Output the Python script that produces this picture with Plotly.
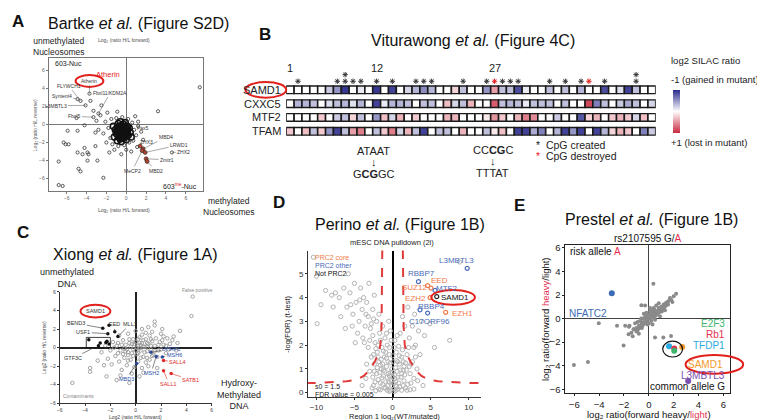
import plotly.graph_objects as go

W, H = 765, 420
FONT = "Liberation Sans, Arial, sans-serif"

def px(x): return x / W
def py(y): return 1 - y / H

# ---------------- DATA ----------------
# Panel A (Bartke) : log2 H/L forward vs reverse
A_CORE = [(-0.4,-0.8),(-0.2,-0.6),(-0.6,-1.0),(-0.3,-1.2),(-0.5,-0.4),(-0.1,-1.0),(-0.8,-0.7),(0.0,-0.5),
          (-0.7,-1.3),(-0.2,-1.5),(-0.4,-0.2),(-0.9,-0.3),(0.1,-0.8),(-0.6,-1.6),(-1.0,-1.0),(0.2,-1.2),
          (-0.3,0.0),(-0.5,-1.9),(-1.1,-0.6),(0.3,-0.4),(-0.8,0.1),(0.0,-1.7),(-1.2,-1.4),(0.4,-0.9),
          (-0.1,0.2),(-0.9,-1.8),(0.1,-0.2),(-1.3,-0.2),(0.5,-1.4),(-0.6,0.3),(-0.35,-0.5),(-0.55,-1.2),
          (-0.15,-0.9),(-0.75,-0.9),(-0.45,-1.5),(-0.25,-0.3),(-0.65,-0.6),(-0.05,-1.3),(-0.85,-1.2),(0.15,-0.6),
          (-0.5,-1.05),(-0.3,-0.75),(-0.7,-0.45),(-0.1,-0.35),(-0.4,-1.35),(-0.95,-0.75),(0.05,-1.1),(-0.6,-0.15)]
A_HALO = [(-1.5,0.6),(-1.8,-0.4),(-1.6,-1.5),(-1.4,-2.2),(-0.8,-2.4),(-0.2,-2.3),(0.3,-2.0),(0.7,-1.8),
          (0.8,-0.6),(0.6,0.2),(0.2,0.6),(-0.4,0.8),(-1.0,0.7),(-2.1,0.3),(-2.3,-1.0),(-2.0,-2.0),
          (-1.2,-2.8),(0.0,-2.8),(1.0,-1.2),(1.2,-0.2),(-2.6,1.0),(-1.9,1.3),(-0.9,1.4),(0.9,0.9),
          (1.5,-0.8),(-3.0,0.4),(-2.8,-0.6),(-3.3,1.5),(1.1,-2.5),(0.5,-3.0),(-0.5,-3.3),(-1.7,-3.1),
          (1.7,-1.7),(-2.5,2.1),(-3.6,2.6),(-4.2,-0.1),(1.2,0.3),(3.2,1.45),(7.4,4.1),(-5.0,0.7),
          (-5.9,-0.7),(-4.9,-0.7),(-3.1,-0.9),(-6.1,-2.2),(-5.8,-2.2),(-3.1,-2.4),(-4.9,-3.1),(-4.4,-3.3),
          (-3.9,-3.1),(-3.8,-3.3),(-3.9,-4.0),(-6.8,-4.1),(-4.8,-4.9),(-4.6,-5.2),(-2.9,-4.0),(-6.8,-6.7),
          (-6.4,-6.8),(-2.3,-5.9),(-6.3,-2.0),(-4.2,-2.6)]
A_NAMES = ["Atherin", "FLYWCH1", "Syntent4", "L3MBTL3", "Fbxl5", "Fbxl11/KDM2A", "ZHX2",
           "ZHX3", "MBD4", "LRWD1", "Zmiz1", "MeCP2", "MBD2"]
A_NX = [-3.7, -4.6, -4.9, -4.1, -3.3, -2.8, 4.6, 1.4, 1.7, 1.9, 2.0, 1.6, 2.1]
A_NY = [3.4, 2.6, 2.8, 2.1, 0.8, 1.2, -3.1, -2.4, -2.7, -3.1, -3.8, -2.9, -4.1]
A_METHYL = [7, 8, 9, 10, 11, 12]   # indices of red (methyl-binding) proteins

# Panel B (Viturawong) : log2 SILAC ratio per position
B_ROWS = ["SAMD1", "CXXC5", "MTF2", "TFAM"]
B_SAMD1 = [0,0,0,0,0,-0.25,-0.5,-0.95,0,-0.1,0,-0.95,0,-0.9,0,-0.2,-0.35,-0.55,-0.35,0,0,0.2,-0.3,0,0,
           -0.5,0.45,-0.3,-0.3,-0.85,-0.1,0,0,-0.3,0,-0.3,0,-0.35,0,0,-0.85,0,-0.15,-0.9,-0.3,0,0]
B_CXXC5 = [0,-0.35,-0.35,-0.3,0,-0.15,-0.3,-0.35,-0.15,-0.35,0,-0.9,-0.1,-0.35,-0.35,-0.3,0,-0.3,-0.3,0,
           0.3,-0.2,-0.3,0.35,0,0,0.75,-0.3,-0.35,-0.3,-0.1,-0.3,-0.3,-0.3,0,-0.3,0,0,0.85,-0.6,-0.3,0,
           -0.25,-0.4,-0.3,0,-0.2]
B_MTF2 = [0,0,0,0,0.25,0,-0.25,-0.3,0.2,-0.3,0,-0.5,0.3,-0.2,0.35,0,0.25,0,0,0,0.35,0.35,0,0,0,0.1,0.5,
          0.25,0,0.35,0.6,0.55,0,0,-0.25,0,0,-0.8,0.2,0.35,0,0.25,0.35,0.25,-0.2,0.3,0]
B_TFAM = [0.25,0,0.3,-0.3,0.25,-0.5,-0.9,-0.3,0.45,0.6,0,-0.3,0.25,0.6,-0.2,0.35,-0.3,-0.9,0,-0.3,-0.3,0,
          0.35,0,0,-0.3,0.1,0.3,0,-0.9,-0.9,-0.4,-0.6,0,-0.35,-0.9,-0.5,-0.9,0,-0.9,-0.35,0.2,0.35,0.25,0,
          -0.6,-0.25]
B_CREATED = [1,6,7,8,9,11,13,16,17,18,22,25,27,28,29,33,35,37,40,44]
B_DESTROYED = [26,38]
B_DOUBLE = [7,44]
B_POS_LABELS = {0: "1", 11: "12", 26: "27"}

# Panel C (Xiong)
C_GRAY = [(-1.8,0.6),(-1.5,0.2),(-1.2,-0.3),(-1.0,0.8),(-0.8,0.3),(-0.6,-0.5),(-0.5,0.9),(-0.3,0.4),
          (-0.2,-0.2),(0.0,0.6),(0.1,-0.7),(0.2,0.2),(0.3,1.1),(0.4,-0.3),(0.5,0.5),(0.6,-1.0),(0.7,0.1),
          (0.8,0.9),(0.9,-0.4),(1.0,0.4),(1.1,1.3),(1.2,-0.2),(1.3,0.7),(1.4,-0.8),(1.5,0.2),(1.6,1.0),
          (1.8,-0.3),(1.9,0.6),(2.0,1.5),(2.2,0.3),(2.4,-0.6),(2.5,1.0),(2.7,0.4),(3.0,1.2),(-1.6,-0.9),
          (-1.3,-1.5),(-0.9,-1.1),(-0.7,-1.9),(-0.4,-1.3),(-0.1,-2.1),(0.2,-1.5),(0.5,-2.2),(0.8,-1.6),
          (1.1,-1.3),(-2.0,-0.3),(-2.2,-1.2),(-1.9,-1.8),(-1.1,-2.4),(-0.3,-2.8),(0.6,-2.7),(1.0,-2.0),
          (-0.6,1.5),(0.0,1.8),(0.5,2.0),(1.0,2.2),(1.5,2.4),(2.1,2.0),(-1.3,1.3),(0.8,1.6),(-0.9,-0.1),
          (-0.4,0.1),(0.1,0.0),(0.3,-0.1),(0.6,0.8),(-0.2,0.9),(0.4,0.3),(-0.6,-0.8),(1.7,-1.0),(2.6,-0.2),
          (3.3,0.5),(3.5,1.8),(-2.4,0.2),(-3.0,-1.4),(-3.6,-2.2),(-3.6,-2.6),(-2.3,-3.1),(-1.5,-3.5),
          (-5.0,-3.8),(4.5,5.5),(4.4,3.4),(1.5,2.8),(2.2,1.2),(-0.5,-3.8),(0.3,-3.1),(-0.1,0.4),(0.7,-0.5),
          (-1.4,0.5),(1.2,0.2),(-0.8,-0.4),(0.2,-0.6),(0.9,0.1),(-0.2,-0.9),
          (-1.7,0.0),(-1.4,-0.6),(-1.1,0.3),(-0.7,-0.2),(-0.3,-0.6),(0.0,-0.3),(0.3,0.5),(0.6,0.1),
          (0.9,0.5),(1.2,0.9),(1.5,-0.4),(1.8,0.3),(2.1,0.8),(2.4,0.2),(-0.5,0.5),(0.2,0.9),(0.5,1.4),
          (1.3,1.7),(-1.0,-0.7),(-0.6,-1.4),(0.4,-1.1),(0.9,-1.1),(1.3,-0.9),(2.0,-0.2),(2.9,0.8),
          (3.2,-0.3),(-2.7,-0.5),(-2.5,-1.9),(-1.2,-3.0),(1.7,-2.2)]
C_BLACK = [(-2.1,2.4),(-2.6,2.1),(-1.65,1.7),(-1.4,1.2),(-2.2,1.5),(-3.7,0.85),(-2.8,0.5),(-2.35,0.55),
           (-2.94,0.2),(-2.27,0.7),(-2.1,0.4)]
C_BLUE = [(1.2,-0.5),(1.62,-0.96),(2.1,-1.0),(0.08,-1.7)]
C_RED = [(2.2,-1.4),(2.8,-2.8),(2.2,-2.5)]
C_BLACK_NAMES = ["SAMD1", "BEND3", "EED", "MLL1", "USF1"]
C_BLUE_NAMES = ["UHRF1", "MSH2", "MSH6", "MBD3"]
C_RED_NAMES = ["SALL4", "SATB1", "SALL1"]

# Panel D (Perino) volcano
D_GRAY = [(-0.3,0.1),(0.2,0.15),(-0.6,0.3),(0.5,0.25),(-0.9,0.45),(0.8,0.4),(-0.2,0.5),(0.3,0.6),
          (-1.2,0.7),(1.1,0.65),(-0.5,0.8),(0.6,0.9),(-1.5,1.0),(1.4,0.95),(-0.8,1.1),(0.9,1.2),(-0.1,1.0),
          (0.1,1.3),(-1.8,1.3),(1.7,1.25),(-1.1,1.5),(1.2,1.5),(-0.4,1.6),(0.5,1.7),(-2.0,1.7),(1.9,1.6),
          (-1.4,1.9),(-0.7,2.0),(0.8,1.95),(-2.3,2.1),(2.1,1.9),(-1.0,2.3),(0.3,2.2),(-1.7,2.5),(-2.6,2.4),
          (1.0,2.5),(-0.3,2.6),(-1.3,2.8),(-2.9,2.7),(-2.1,3.0),(0.2,0.05),(-0.1,0.3),(0.7,0.15),(-0.7,0.1),
          (1.5,0.5),(-1.6,0.4),(2.3,0.8),(-2.4,0.9),(2.6,1.3),(-2.8,1.5),(-2.2,0.08),(-1.6,0.12),
          (-1.1,0.2),(1.2,0.1),(1.7,0.2),(2.3,0.12),(-2.5,0.3),(2.0,0.35),(-1.9,0.55),(1.6,0.75),
          (-1.4,0.62),(0.4,0.45),(-0.4,0.7),(0.0,0.85),(1.0,0.95),(-1.0,0.9),(-0.6,1.3),(0.4,1.05),
          (-1.3,1.2),(1.4,1.3),(-0.9,1.7),(0.2,1.9),(-0.2,2.2),(-1.9,2.0),(-0.5,0.45),(0.05,0.65),
          (-2.7,0.2),(-2.3,0.45),(-1.8,0.15),(-1.3,0.35),(-0.9,0.2),(-0.45,0.05),(0.1,0.4),(0.45,0.1),
          (0.9,0.25),(1.4,0.3),(1.9,0.1),(2.4,0.4),(2.8,0.15),(-2.6,0.65),(-2.1,0.8),(-1.7,0.85),
          (-1.2,0.95),(-0.7,0.65),(-0.25,0.85),(0.25,0.75),(0.7,0.65),(1.2,0.8),(1.8,0.95),(2.2,1.1),
          (-2.4,1.2),(-2.0,1.05),(-1.6,1.15),(-0.3,1.25),(0.7,1.3),(1.5,1.1),(-1.9,1.5),(-1.5,1.4),
          (-0.8,1.45),(0.0,1.55),(0.9,1.55),(-2.2,1.85),(-1.2,1.75),(-0.4,1.9),(0.5,1.35),(1.3,1.8),
          (-2.5,1.6),(-1.6,2.2),(-0.8,2.5),(0.6,2.4),(-3.2,1.9),(-3.4,1.2),(-3.0,0.9),(3.0,1.5),
          (2.8,1.9),(-0.5,3.0),(-1.8,3.3),(-2.5,3.1),
          (-3.2,3.2),(-3.6,2.8),(-4.0,3.5),(-4.4,3.0),(-3.8,4.0),(-4.8,3.8),(-5.2,3.3),(-5.6,4.2),
          (-6.0,3.6),(-6.4,4.4),(-5.0,4.6),(-7.0,4.0),(-7.5,4.2),(-8.0,4.1),(-8.8,4.3),(-9.4,3.7),
          (-10.0,4.9),(-10.4,5.7),(-9.9,2.9),(-6.8,3.2),(-3.4,3.8),(-4.6,2.5),(-3.0,2.2),(-5.3,2.8),
          (-2.6,3.5),(-4.2,4.4),(-7.8,3.6),(-6.2,2.7),(-3.9,2.3),(-4.9,2.1),(-2.4,4.1),(-5.8,5.0),
          (-3.1,4.6),(-3.5,3.3),(-4.3,3.9),(-5.5,3.7),(-2.8,2.9),(-3.7,2.1),
          (2.2,2.3),(2.6,2.8),(3.0,2.0),(3.4,2.6),(2.9,3.3),(3.8,3.0),(4.2,2.4),(2.0,3.6),(4.9,2.9),
          (3.6,1.6),(2.4,1.2),(3.2,1.0),(2.8,0.6),(1.6,2.8),(1.3,3.2),(-4.0,0.3),(4.0,0.3),(-3.5,0.6),
          (3.3,0.5),(5.5,1.9),(7.5,2.2),(8.8,5.5)]
D_THR = [(1.35,6.0),(1.37,4.5),(1.4,3.5),(1.45,2.8),(1.6,2.0),(1.9,1.6),(2.3,1.33),(3.0,0.95),
         (3.8,0.7),(4.7,0.55),(6.0,0.48),(8.0,0.43),(10.0,0.41),(11.6,0.4)]
D_NAMES = ["L3MBTL3", "RBBP7", "EED", "SUZ12", "MTF2", "SAMD1", "EZH2", "RBBP4", "C17ORF96", "EZH1"]
D_X = [9.8, 3.4, 5.05, 4.6, 5.58, 5.8, 4.93, 3.6, 4.6, 6.97]
D_Y = [5.23, 4.67, 4.4, 4.5, 4.3, 4.04, 4.0, 3.48, 3.35, 3.38]
D_GROUP = ["other", "other", "core", "core", "other", "not", "core", "other", "other", "core"]

# Panel E (Prestel)
E_GRAY = [(0.0,0.0),(0.2,0.3),(-0.2,-0.1),(0.4,0.5),(-0.4,-0.3),(0.6,0.6),(-0.6,-0.5),(0.8,0.9),
          (-0.8,-0.6),(1.0,1.0),(-1.0,-0.8),(1.2,1.2),(1.4,1.1),(1.6,1.5),(1.8,1.6),(0.3,0.1),(-0.1,0.2),
          (0.5,0.2),(0.1,0.6),(0.7,0.4),(-0.3,0.1),(0.9,0.6),(-0.5,-0.6),(1.1,0.8),(-0.7,-0.2),(0.2,-0.2),
          (-0.2,0.5),(0.4,0.9),(0.6,1.1),(-0.9,-1.0),(-1.2,-0.9),(-1.4,-1.2),(1.3,0.7),(0.8,1.3),(-0.4,0.4),
          (0.0,-0.4),(0.3,-0.5),(-1.1,-0.4),(-1.6,-0.7),(0.9,0.2),(1.5,1.4),(-0.6,0.0),(0.1,0.9),(-0.8,-1.3),
          (0.15,0.05),(-0.15,-0.25),(0.35,0.35),(0.55,0.45),(0.75,0.7),(0.95,0.85),(1.15,1.05),(1.35,1.3),
          (1.7,1.75),(2.0,1.9),(-0.35,-0.45),(-0.55,-0.35),(-0.75,-0.8),(-1.0,-1.1),(0.05,0.35),(0.25,0.55),
          (0.45,0.75),(0.65,0.35),(0.85,0.55),(1.05,0.6),(-0.25,0.25),(-0.45,0.0),(-0.65,-0.7),(1.25,0.95),
          (1.55,1.2),(0.3,0.75),(-0.1,-0.5),(0.5,-0.1),(2.2,2.1),(1.9,1.4),(-1.3,-1.5),(-0.9,-0.3),
          (0.37,2.95),(-0.3,1.1),(-4.03,-0.4),(-2.56,-0.62),(-6.03,-3.95),(-4.9,-3.68),(-1.55,-0.62),
          (-1.23,-0.9),(-1.63,-1.34),(-2.03,-2.28),(1.17,-1.6),(1.79,-1.48),(0.5,-1.6),(-0.56,-0.8),
          (-0.6,1.13),(1.44,1.34),(-1.9,-0.6)]
E_NAMES = ["NFATC2", "TFDP1", "Rb1", "E2F3", "SAMD1", "L3MBTL3"]
E_X = [-2.98, 1.63, 2.05, 2.05, 2.69, 3.17]
E_Y = [2.15, -2.36, -2.55, -2.73, -2.42, -5.31]
E_COLORS = ["#3c6cb4", "#2ba9e1", "#e2314f", "#3fb56c", "#f39a2c", "#7a4fb0"]

# ---------------- AXES GEOMETRY ----------------
GEOM = {
    "A": dict(xd=(38, 193), yd=(48, 183), xr=(-7.8, 7.7), yr=(-7.4, 7.3)),
    "B": dict(xd=(277, 649), yd=(50, 130), xr=(-0.5, 46.5), yr=(3.57, -2.14)),
    "C": dict(xd=(49, 202), yd=(285, 398), xr=(-6, 6), yr=(-6, 6)),
    "D": dict(xd=(299, 473), yd=(243, 392), xr=(-11.1, 11.6), yr=(-0.2, 5.98)),
    "E": dict(xd=(558, 724), yd=(237, 388), xr=(-6.72, 6.56), yr=(-6.36, 6.28)),
}
AXID = {"A": "", "B": "2", "C": "3", "D": "4", "E": "5"}

def to_px(p, x, y):
    g = GEOM[p]
    X = g["xd"][0] + (x - g["xr"][0]) / (g["xr"][1] - g["xr"][0]) * (g["xd"][1] - g["xd"][0])
    Y = g["yd"][1] - (y - g["yr"][0]) / (g["yr"][1] - g["yr"][0]) * (g["yd"][1] - g["yd"][0])
    return X, Y

def xs(pairs): return [p[0] for p in pairs]
def ys(pairs): return [p[1] for p in pairs]

fig = go.Figure()

def add(p, **kw):
    fig.add_trace(go.Scatter(xaxis="x" + AXID[p], yaxis="y" + AXID[p], hoverinfo="skip", **kw))

annotations = []
shapes = []

def T(text, x, y, size=10, color="#222", xanchor="center", yanchor="middle", **kw):
    annotations.append(dict(text=text, x=px(x), y=py(y), xref="paper", yref="paper", showarrow=False,
                            font=dict(size=size, color=color, family=FONT), xanchor=xanchor,
                            yanchor=yanchor, **kw))

def P(p, text, x, y, tx, ty, size, color, acolor="#444", aw=0.6):
    X, Y = to_px(p, x, y)
    annotations.append(dict(text=text, x=x, y=y, xref="x" + AXID[p], yref="y" + AXID[p],
                            showarrow=True, arrowhead=0, arrowwidth=aw, arrowcolor=acolor,
                            ax=tx - X, ay=ty - Y, standoff=0,
                            font=dict(size=size, color=color, family=FONT)))

def ellipse(x0, y0, x1, y1, color="#e3211c", width=2):
    shapes.append(dict(type="circle", xref="paper", yref="paper", x0=px(x0), x1=px(x1),
                       y0=py(y1), y1=py(y0), line=dict(color=color, width=width)))

# ---------------- PANEL A ----------------
add("A", x=xs(A_CORE), y=ys(A_CORE), mode="markers",
    marker=dict(symbol="circle-open", size=6, color="#111", line=dict(width=1.6)))
add("A", x=xs(A_HALO), y=ys(A_HALO), mode="markers",
    marker=dict(symbol="circle-open", size=3.2, color="#333", line=dict(width=0.8)))
plain = [i for i in range(len(A_NAMES)) if i not in A_METHYL]
add("A", x=[A_NX[i] for i in plain], y=[A_NY[i] for i in plain], mode="markers",
    marker=dict(symbol="circle-open", size=3.2, color="#333", line=dict(width=0.8)))
add("A", x=[A_NX[i] for i in A_METHYL], y=[A_NY[i] for i in A_METHYL], mode="markers",
    marker=dict(symbol="circle", size=4, color="#b8442e", line=dict(width=0.6, color="#222")))

A_TXT = {"Atherin": (79, 71), "FLYWCH1": (58, 76), "Syntent4": (51, 86), "L3MBTL3": (45, 96),
         "Fbxl5": (64, 107), "Fbxl11/KDM2A": (100, 83), "ZHX2": (174, 143), "ZHX3": (136, 133),
         "MBD4": (156, 128), "LRWD1": (169, 136), "Zmiz1": (157, 151), "MeCP2": (122, 162),
         "MBD2": (146, 162)}
for i, n in enumerate(A_NAMES):
    tx, ty = A_TXT[n]
    P("A", n, A_NX[i], A_NY[i], tx, ty, 5, "#333", acolor="#555", aw=0.5)
T("Pax5", 133, 119, 5, "#333")
T("603-Nuc", 42, 53, 7, "#222", xanchor="left")
T("603<sup><span style='color:#e3211c'>me</span></sup>-Nuc", 189, 178, 7, "#222", xanchor="right")
T("Atherin", 98, 64, 7.5, "#e3211c")
ellipse(65, 65, 93, 77)
T("<b>A</b>", 7, 11, 17, "#111")
T("Bartke <i>et al.</i> (Figure S2D)", 128, 13, 16, "#111")
T("unmethylated<br>Nucleosomes", 20, 36, 8.5, "#222", xanchor="left")
T("methylated<br>Nucleosomes", 191, 198, 8.5, "#222", xanchor="left")
T("Log₂ (ratio H/L forward)", 114, 29, 5, "#555")
T("Log₂ (ratio H/L forward)", 114, 202, 5, "#555")
T("Log₂ (ratio H/L reverse)", 24, 116, 5, "#555", textangle=-90)

# ---------------- PANEL B ----------------
rows_vals = [B_SAMD1, B_CXXC5, B_MTF2, B_TFAM]
hx, hy, hc = [], [], []
for r, vals in enumerate(rows_vals):
    for c, v in enumerate(vals):
        hx.append(c); hy.append(r); hc.append(-v)
add("B", x=hx, y=hy, mode="markers",
    marker=dict(symbol="square", size=7.6, color=hc, cmin=-1, cmax=1,
                colorscale=[[0, "#c9283e"], [0.5, "#ffffff"], [1, "#2c2d8c"]],
                line=dict(color="#1a1a1a", width=1.4),
                colorbar=dict(x=px(666), xanchor="left", y=py(101.5), yanchor="middle",
                              xpad=0, ypad=0, len=43, lenmode="pixels", thickness=7,
                              showticklabels=False, ticks="", outlinewidth=0)))
STAR = dict(symbol="asterisk-open", size=4.5, color="#333", line=dict(color="#333", width=1))
add("B", x=B_CREATED, y=[-0.62] * len(B_CREATED), mode="markers", marker=STAR)
add("B", x=B_DOUBLE, y=[-1.1] * len(B_DOUBLE), mode="markers", marker=STAR)
add("B", x=B_DESTROYED, y=[-0.62] * len(B_DESTROYED), mode="markers",
    marker=dict(STAR, color="#e3211c", line=dict(color="#e3211c", width=1)))
for c, lab in B_POS_LABELS.items():
    annotations.append(dict(text=lab, x=c, y=-1.6, xref="x2", yref="y2", showarrow=False,
                            font=dict(size=11, color="#222", family=FONT)))
for r, name in enumerate(B_ROWS):
    X, Y = to_px("B", -0.5, r)
    T(name, X - 3, Y, 11, "#222", xanchor="right")
ellipse(236, 72, 277, 88)
T("<b>B</b>", 256, 24, 17, "#111")
T("Viturawong <i>et al.</i> (Figure 4C)", 465, 30, 16, "#111")
T("ATAAT", 365, 142, 11, "#222")
T("↓", 365, 153, 11, "#222")
T("G<b>CG</b>GC", 365, 165, 11, "#222")
T("CC<b>CG</b>C", 485, 141, 11, "#222")
T("↓", 485, 152, 11, "#222")
T("TTTAT", 485, 164, 11, "#222")
T("*  CpG created", 526, 136, 10.5, "#222", xanchor="left")
T("<span style='color:#e3211c'>*</span>  CpG destroyed", 526, 147, 10.5, "#222", xanchor="left")
T("log2 SILAC ratio", 662, 50, 9.5, "#222", xanchor="left")
T("-1 (gained in mutant)", 662, 70, 9.5, "#222", xanchor="left")
T("+1 (lost in mutant)", 662, 133, 9.5, "#222", xanchor="left")

# ---------------- PANEL C ----------------
add("C", x=xs(C_GRAY), y=ys(C_GRAY), mode="markers",
    marker=dict(symbol="circle-open", size=3.5, color="#9a9a9a", line=dict(width=0.9)))
add("C", x=xs(C_BLACK), y=ys(C_BLACK), mode="markers",
    marker=dict(symbol="circle", size=3.5, color="#111"))
add("C", x=xs(C_BLUE), y=ys(C_BLUE), mode="markers",
    marker=dict(symbol="circle", size=3.5, color="#2f4fa8"))
add("C", x=xs(C_RED), y=ys(C_RED), mode="markers",
    marker=dict(symbol="circle", size=3.5, color="#e02b2b"))
C_TXT = {"SAMD1": (85, 304), "BEND3": (66, 317), "EED": (104, 318), "MLL1": (120, 318),
         "USF1": (73, 326), "UHRF1": (161, 343), "MSH6": (164, 349), "MBD3": (116, 373),
         "MSH2": (141, 367), "SALL4": (168, 356), "SATB1": (181, 374), "SALL1": (159, 378)}
for i, n in enumerate(C_BLACK_NAMES):
    if n == "SAMD1":
        T(n, *C_TXT[n], 5.5, "#333")
    else:
        P("C", n, C_BLACK[i][0], C_BLACK[i][1], *C_TXT[n], 5.5, "#333", acolor="#333")
for i, n in enumerate(C_BLUE_NAMES):
    P("C", n, C_BLUE[i][0], C_BLUE[i][1], *C_TXT[n], 5.5, "#2f4fa8", acolor="#333")
for i, n in enumerate(C_RED_NAMES):
    P("C", n, C_RED[i][0], C_RED[i][1], *C_TXT[n], 5.5, "#e02b2b", acolor="#e02b2b")
P("C", "GTF3C", -3.3, 0.0, 63, 352, 5.5, "#333", acolor="#333")
x0, y0 = to_px("C", -3.9, 1.1)
x1, y1 = to_px("C", -2.0, 0.0)
shapes.append(dict(type="rect", xref="paper", yref="paper", x0=px(x0), x1=px(x1), y0=py(y1), y1=py(y0),
                   line=dict(color="#111", width=0.8)))
ellipse(70, 298, 100, 311)
T("False positive", 188, 283, 5, "#888")
T("Contaminants", 68, 391, 5, "#888")
T("<b>C</b>", 12, 225, 17, "#111")
T("Xiong <i>et al.</i> (Figure 1A)", 125, 247, 16, "#111")
T("unmethylated<br>DNA", 27, 271, 9, "#222", xanchor="left")
T("Hydroxy-<br>Methylated<br>DNA", 205, 389, 9, "#222", xanchor="left")
T("Log2 (ratio H/L forward)", 125, 412, 5, "#444")
T("Log2 (ratio H/L reverse)", 33, 341, 5, "#444", textangle=-90)

# ---------------- PANEL D ----------------
add("D", x=xs(D_GRAY), y=ys(D_GRAY), mode="markers",
    marker=dict(symbol="circle-open", size=4.2, color="#b4b4b4", line=dict(width=1)))
add("D", x=xs(D_THR), y=ys(D_THR), mode="lines", line=dict(color="#e03a3a", width=2, dash="dash"))
add("D", x=[-v for v in xs(D_THR)], y=ys(D_THR), mode="lines",
    line=dict(color="#e03a3a", width=2, dash="dash"))
D_COL = {"core": "#f07a4a", "other": "#4a6cb8", "not": "#222"}
add("D", x=D_X, y=D_Y, mode="markers",
    marker=dict(symbol="circle-open", size=4, color=[D_COL[gp] for gp in D_GROUP], line=dict(width=1.2)))
D_TXT = {"L3MBTL3": (448, 253), "RBBP7": (413, 266), "EED": (431, 273), "SUZ12": (406, 280),
         "MTF2": (438, 282), "SAMD1": (447, 291), "EZH2": (407, 292), "RBBP4": (423, 300),
         "C17ORF96": (421, 315), "EZH1": (454, 307)}
for i, n in enumerate(D_NAMES):
    T(n, *D_TXT[n], 8, D_COL[D_GROUP[i]] if D_GROUP[i] != "not" else "#111")
ellipse(423, 283, 467, 298)
T("PRC2 core", 304, 250, 7, "#f07a4a", xanchor="left")
T("PRC2 other", 304, 258, 7, "#4a6cb8", xanchor="left")
T("Not PRC2", 304, 266, 7, "#111", xanchor="left")
T("s0 = 1.5", 304, 381, 7, "#222", xanchor="left")
T("FDR value = 0.005", 304, 389, 7, "#222", xanchor="left")
T("mESC DNA pulldown (2i)", 384, 235, 7.5, "#222")
T("<b>D</b>", 270, 194, 17, "#111")
T("Perino <i>et al.</i> (Figure 1B)", 392, 217, 16, "#111")
T("Region 1 log₂(WT/mutated)", 386, 411, 7.5, "#222")
T("-log(FDR) (t-test)", 278, 318, 7.5, "#222", textangle=-90)

# ---------------- PANEL E ----------------
add("E", x=xs(E_GRAY), y=ys(E_GRAY), mode="markers",
    marker=dict(symbol="circle", size=4, color="#8a8a8a"))
add("E", x=E_X, y=E_Y, mode="markers", marker=dict(symbol="circle", size=6, color=E_COLORS))
T("NFATC2", 581, 307, 10, E_COLORS[0])
T("E2F3", 721, 317, 10, E_COLORS[3], xanchor="right")
T("Rb1", 721, 328, 10, E_COLORS[2], xanchor="right")
T("TFDP1", 721, 339, 10, E_COLORS[1], xanchor="right")
T("SAMD1", 719, 359, 10, E_COLORS[4], xanchor="right")
T("L3MBTL3", 721, 370, 10, E_COLORS[5], xanchor="right")
T("common allele G", 721, 381, 10, "#111", xanchor="right")
T("risk allele <span style='color:#e2314f'>A</span>", 561, 244, 10, "#111", xanchor="left")
T("rs2107595 G/<span style='color:#e2314f'>A</span>", 641, 231, 10, "#111")
ellipse(679, 349, 737, 368)
ellipse(656, 335, 676, 351, color="#111", width=1.2)
T("<b>E</b>", 512, 197, 17, "#111")
T("Prestel <i>et al.</i> (Figure 1B)", 645, 212, 16, "#111")
T("log₂ ratio(forward heavy/<span style='color:#e2314f'>light</span>)", 642, 409, 9.5, "#111")
T("log₂ ratio(forward <span style='color:#e2314f'>heavy</span>/light)", 538, 312, 9.5,
  "#111", textangle=-90)

# ---------------- LAYOUT ----------------
def dom(p):
    g = GEOM[p]
    return [g["xd"][0] / W, g["xd"][1] / W], [1 - g["yd"][1] / H, 1 - g["yd"][0] / H]

def axes(p, xk, yk):
    xd, yd = dom(p)
    g = GEOM[p]
    xk.update(domain=xd, range=list(g["xr"]), showgrid=False, anchor="y" + AXID[p])
    yk.update(domain=yd, range=list(g["yr"]), showgrid=False, anchor="x" + AXID[p])
    return xk, yk

tickA = dict(tickvals=[-6, -4, -2, 0, 2, 4, 6], tickfont=dict(size=5, color="#666", family=FONT),
             showline=True, mirror=True, linecolor="#777", linewidth=1, ticks="outside", ticklen=2,
             tickcolor="#777", zeroline=True, zerolinecolor="#777", zerolinewidth=1)
xa, ya = axes("A", dict(tickA), dict(tickA))
xb, yb = axes("B", dict(visible=False), dict(visible=False))
tickC = dict(tickvals=[-6, -4, -2, 0, 2, 4, 6], tickfont=dict(size=5, color="#444", family=FONT),
             showline=True, linecolor="#333", linewidth=0.8, ticks="outside", ticklen=2,
             tickcolor="#333", zeroline=True, zerolinecolor="#222", zerolinewidth=1.5)
xc, yc = axes("C", dict(tickC), dict(tickC))
xdx, ydx = axes("D",
    dict(tickvals=[-10, -5, 0, 5, 10], tickfont=dict(size=8, color="#333", family=FONT),
         showline=True, linecolor="#333", linewidth=0.8, ticks="outside", ticklen=2, tickcolor="#333",
         zeroline=True, zerolinecolor="#000", zerolinewidth=2),
    dict(tickvals=[0, 1, 2, 3, 4, 5], tickfont=dict(size=8, color="#333", family=FONT),
         showline=True, linecolor="#333", linewidth=0.8, ticks="outside", ticklen=2, tickcolor="#333",
         zeroline=False))
tickE = dict(tickvals=[-6, -4, -2, 0, 2, 4, 6], tickfont=dict(size=9.5, color="#222", family=FONT),
             showline=True, mirror=True, linecolor="#222", linewidth=1, ticks="outside", ticklen=2,
             tickcolor="#222", zeroline=True, zerolinecolor="#444", zerolinewidth=1.2)
xe, ye = axes("E", dict(tickE), dict(tickE))

fig.update_layout(
    width=W, height=H, margin=dict(l=0, r=0, t=0, b=0), showlegend=False,
    paper_bgcolor="white", plot_bgcolor="white", font=dict(family=FONT),
    xaxis=xa, yaxis=ya, xaxis2=xb, yaxis2=yb, xaxis3=xc, yaxis3=yc,
    xaxis4=xdx, yaxis4=ydx, xaxis5=xe, yaxis5=ye,
    annotations=annotations, shapes=shapes,
)
fig.write_html("out.html")
